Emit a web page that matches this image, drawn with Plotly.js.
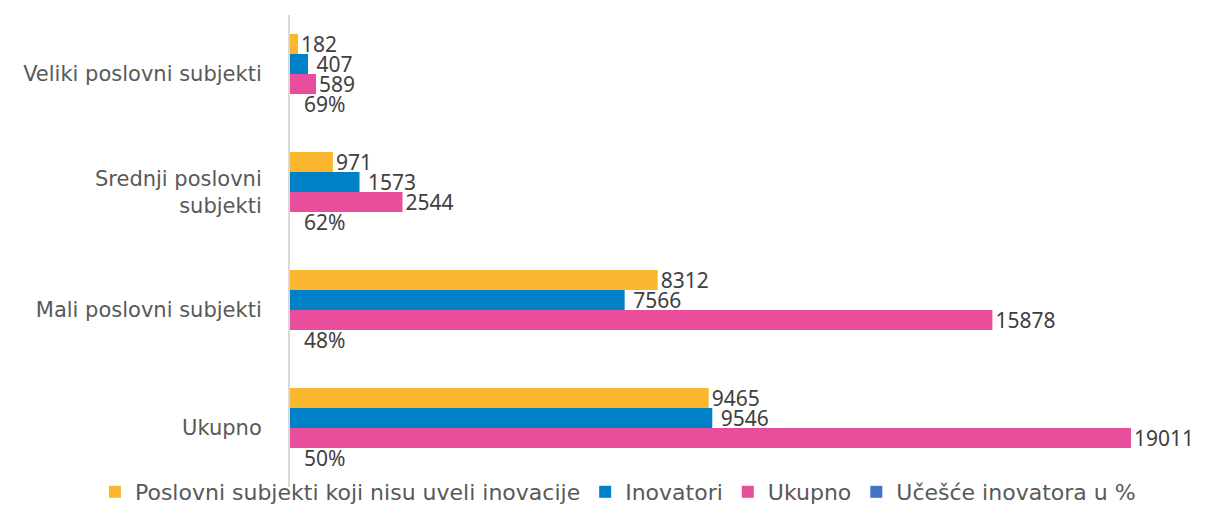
<!DOCTYPE html>
<html>
<head>
<meta charset="utf-8">
<script src="https://cdn.plot.ly/plotly-3.0.1.min.js"></script>
<style>html,body{margin:0;padding:0;background:#fff;}#chart{width:1205px;height:513px;}</style>
</head>
<body>
<div id="chart"></div>
<script>
const categories = ["Veliki poslovni subjekti", "Srednji poslovni<br>subjekti", "Mali poslovni subjekti", "Ukupno"];
const seriesNames = ["Poslovni subjekti koji nisu uveli inovacije", "Inovatori", "Ukupno", "Učešće inovatora u %"];
const nonInnovators = [182, 971, 8312, 9465];
const innovators = [407, 1573, 7566, 9546];
const total = [589, 2544, 15878, 19011];
const innovatorShare = [0.69, 0.62, 0.48, 0.50];

const colors = ["#FBB630", "#0080C6", "#E84E9B", "#4472C4"];
const labelFont = {family: "Noto Sans, sans-serif", size: 21, color: "#404040"};
const axisFont = {family: "DejaVu Sans, sans-serif", size: 21, color: "#595959"};

function barTrace(name, values, color, tmpl) {
  return {
    type: "bar", orientation: "h", name: name,
    y: categories, x: values,
    marker: {color: color},
    texttemplate: tmpl, textposition: "outside", textfont: labelFont,
    constraintext: "none", cliponaxis: false, hoverinfo: "skip"
  };
}

const data = [
  barTrace(seriesNames[0], nonInnovators, colors[0], "%{x:.0f}"),
  barTrace(seriesNames[1], innovators, colors[1], "\u00a0%{x:.0f}"),
  barTrace(seriesNames[2], total, colors[2], "%{x:.0f}"),
  barTrace(seriesNames[3], innovatorShare, colors[3], "\u00a0\u00a0%{x:.0%}")
];

const layout = {
  width: 1205, height: 513,
  margin: {l: 20, r: 0, t: 15, b: 0},
  paper_bgcolor: "#fff", plot_bgcolor: "#fff",
  barmode: "group", bargap: 0.32, bargroupgap: 0,
  font: axisFont,
  xaxis: {domain: [0.2278, 1], range: [0, 20683], showticklabels: false, showgrid: false,
          zeroline: false, showline: false, fixedrange: true},
  yaxis: {domain: [0.0522, 1], autorange: "reversed", showline: true, linecolor: "#D9D9D9", linewidth: 2,
          ticks: "", ticklabelstandoff: 22, showgrid: false, zeroline: false,
          tickfont: axisFont},
  legend: {orientation: "h", xref: "paper", yref: "paper", x: 0.5046, xanchor: "center",
           y: 0, yanchor: "bottom", font: {family: "DejaVu Sans, sans-serif", size: 22, color: "#595959"},
           itemclick: false, traceorder: "normal", tracegroupgap: 0, bgcolor: "rgba(0,0,0,0)"},
  showlegend: true
};

Plotly.newPlot("chart", data, layout, {staticPlot: true});
</script>
</body>
</html>
